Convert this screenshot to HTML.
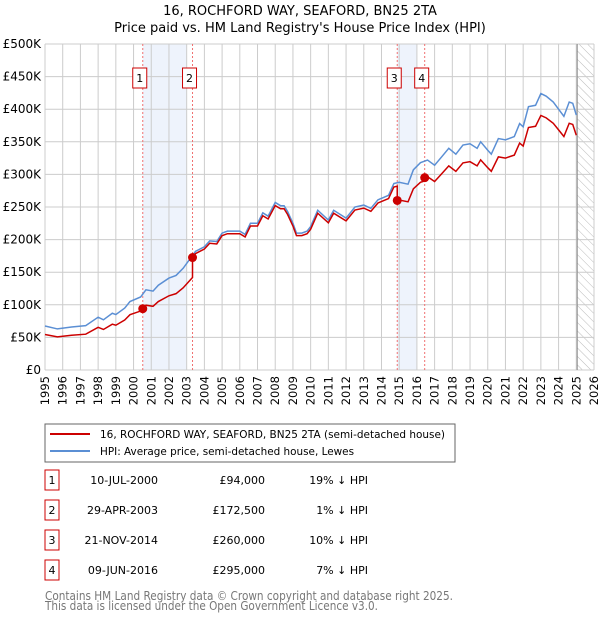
<!DOCTYPE html>
<html><head><meta charset="utf-8"><style>
body{margin:0;background:#fff;font-family:"DejaVu Sans","Liberation Sans",sans-serif;}
svg text{font-family:"DejaVu Sans","Liberation Sans",sans-serif;}
</style></head><body>
<svg id="c" width="600" height="620" viewBox="0 0 600 620" xmlns="http://www.w3.org/2000/svg">
<defs><pattern id="hatch" width="6" height="6" patternUnits="userSpaceOnUse" patternTransform="rotate(-45)"><line x1="0" y1="0" x2="0" y2="6" stroke="#bbb" stroke-width="1"/></pattern></defs>
<text x="300" y="15" text-anchor="middle" font-size="13" fill="#000">16, ROCHFORD WAY, SEAFORD, BN25 2TA</text>
<text x="300" y="32" text-anchor="middle" font-size="13" fill="#000">Price paid vs. HM Land Registry's House Price Index (HPI)</text>
<g id="plot"></g>
<rect x="45" y="424" width="410" height="38" fill="#fff" stroke="#666"/>
<line x1="50" y1="434" x2="90" y2="434" stroke="#cc0000" stroke-width="2"/>
<text x="100" y="438" font-size="11" textLength="345" lengthAdjust="spacingAndGlyphs">16, ROCHFORD WAY, SEAFORD, BN25 2TA (semi-detached house)</text>
<line x1="50" y1="451" x2="90" y2="451" stroke="#5b8fd4" stroke-width="2"/>
<text x="100" y="455" font-size="11" textLength="254" lengthAdjust="spacingAndGlyphs">HPI: Average price, semi-detached house, Lewes</text>
<g id="table"></g>
<text x="45" y="600" font-size="12" fill="#777" textLength="408" lengthAdjust="spacingAndGlyphs">Contains HM Land Registry data © Crown copyright and database right 2025.</text>
<text x="45" y="610" font-size="12" fill="#777" textLength="333" lengthAdjust="spacingAndGlyphs">This data is licensed under the Open Government Licence v3.0.</text>
</svg>
<script>
const hpiYears=[1995,1995.7,1996.5,1997.3,1998,1998.3,1998.8,1999,1999.5,1999.8,2000.4,2000.7,2001.1,2001.4,2002,2002.4,2002.8,2003.2,2003.5,2004,2004.3,2004.7,2005,2005.3,2006,2006.3,2006.6,2007,2007.3,2007.6,2008,2008.3,2008.5,2008.7,2009,2009.2,2009.5,2009.8,2010,2010.4,2011,2011.3,2012,2012.5,2013,2013.4,2013.8,2014.4,2014.7,2015,2015.5,2015.8,2016.2,2016.6,2017,2017.4,2017.8,2018.2,2018.6,2019,2019.4,2019.6,2020,2020.2,2020.6,2021,2021.5,2021.8,2022,2022.3,2022.7,2023,2023.3,2023.7,2024,2024.3,2024.6,2024.8,2025];
const hpiValues=[67.5,63,66,68,81,77,87,85,95,105,112,123,121,130,141,145,156,171,182,189,198,197,210,213,213,208,225,225,241,236,257,252,252,243,225,210,210,213,220,245,230,245,233,250,253,248,261,268,286,288,285,307,318,322,314,327,340,331,345,347,340,350,337,331,355,353,358,378,373,404,406,424,420,411,400,389,411,409,391];
const saleDates=[2000.52,2003.33,2014.89,2016.44];
const salePrices=[94,172.5,260,295];
const saleLabels=["1","2","3","4"];
const saleDateText=["10-JUL-2000","29-APR-2003","21-NOV-2014","09-JUN-2016"];
const salePriceText=["£94,000","£172,500","£260,000","£295,000"];
const saleDiffText=["19% ↓ HPI","1% ↓ HPI","10% ↓ HPI","7% ↓ HPI"];
const yTicks=[0,50,100,150,200,250,300,350,400,450,500];
const yTickLabels=["£0","£50K","£100K","£150K","£200K","£250K","£300K","£350K","£400K","£450K","£500K"];
const xTicks=[1995,1996,1997,1998,1999,2000,2001,2002,2003,2004,2005,2006,2007,2008,2009,2010,2011,2012,2013,2014,2015,2016,2017,2018,2019,2020,2021,2022,2023,2024,2025,2026];
const dataEnd=2025.05;

const X0=45,X1=594,Y0=370,Y1=44,xMin=1995,xMax=2026,yMax=500;
const xs=v=>X0+(v-xMin)/(xMax-xMin)*(X1-X0);
const ys=v=>Y0-v/yMax*(Y0-Y1);
const NS="http://www.w3.org/2000/svg";
const plot=document.getElementById('plot');
function mk(tag,attrs,parent){const e=document.createElementNS(NS,tag);for(const k in attrs)e.setAttribute(k,attrs[k]);(parent||plot).appendChild(e);return e;}
function hpiAt(t){for(let i=0;i<hpiYears.length-1;i++){if(t<=hpiYears[i+1]){const f=(t-hpiYears[i])/(hpiYears[i+1]-hpiYears[i]);return hpiValues[i]+f*(hpiValues[i+1]-hpiValues[i]);}}return hpiValues[hpiValues.length-1];}

for(let i=0;i<saleDates.length;i+=2){
  const a=saleDates[i],b=Math.floor(saleDates[i+1]);
  const r=mk('rect',{x:xs(a),y:Y1,width:xs(b)-xs(a),height:Y0-Y1,fill:'#eef3fc'});
  
  
}
const hz=mk('rect',{x:xs(dataEnd),y:Y1,width:X1-xs(dataEnd),height:Y0-Y1,fill:'url(#hatch)'});


yTicks.forEach((v,i)=>{
  const l=mk('line',{x1:X0,x2:X1,y1:ys(v),y2:ys(v),stroke:'#ccc','stroke-width':1});
  
  
  const t=mk('text',{x:X0-4,y:ys(v)+4,'text-anchor':'end','font-size':12,fill:'#000'});
  t.textContent=yTickLabels[i];
  
  
});
xTicks.forEach(v=>{
  const l=mk('line',{x1:xs(v),x2:xs(v),y1:Y1,y2:Y0,stroke:'#ccc','stroke-width':1});
  
  
  const tx=xs(v)+4,ty=376;
  const t=mk('text',{x:tx,y:ty,'text-anchor':'end','font-size':11.5,fill:'#000',transform:'rotate(-90 '+tx+' '+ty+')'});
  t.textContent=v;
  
  
});
const el=mk('line',{x1:xs(dataEnd),x2:xs(dataEnd),y1:Y1,y2:Y0,stroke:'#888','stroke-width':1});


saleDates.forEach((d,i)=>{
  const l=mk('line',{x1:xs(d),x2:xs(d),y1:Y1,y2:Y0,stroke:'#f07070','stroke-width':1,'stroke-dasharray':'2,2'});
  
  
  const r=mk('rect',{x:xs(d)-10,y:68,width:14,height:20,fill:'#fff',stroke:'#cc0000'});
  
  
  const t=mk('text',{x:xs(d)-3,y:82,'text-anchor':'middle','font-size':11});
  t.textContent=saleLabels[i];
  
  
});
const hp=mk('polyline',{points:hpiYears.map((y,i)=>xs(y)+','+ys(hpiValues[i])).join(' '),fill:'none',stroke:'#5b8fd4','stroke-width':1.5});


const pts=[];
function ratioAt(t){let idx=0;for(let i=0;i<saleDates.length;i++)if(t>=saleDates[i])idx=i;return salePrices[idx]/hpiAt(saleDates[idx]);}
const times=hpiYears.concat(saleDates).concat(saleDates.map(d=>d-0.001)).sort((a,b)=>a-b);
times.forEach(t=>{pts.push(xs(t)+','+ys(hpiAt(t)*ratioAt(t)));});
const pl=mk('polyline',{points:pts.join(' '),fill:'none',stroke:'#cc0000','stroke-width':1.5});


saleDates.forEach((d,i)=>{
  const c=mk('circle',{cx:xs(d),cy:ys(salePrices[i]),r:4.5,fill:'#cc0000'});
  
  
});
const tb=document.getElementById('table');
saleDates.forEach((d,i)=>{
  const y=483+i*30;
  const r=mk('rect',{x:45,y:y-13,width:14,height:20,fill:'#fff',stroke:'#cc0000'},tb);
  
  
  const cells=[[52,'middle',saleLabels[i],'table-marker-label'],[158,'end',saleDateText[i],'table-date'],[265,'end',salePriceText[i],'table-price'],[368,'end',saleDiffText[i],'table-hpi-diff']];
  cells.forEach(c=>{
    const t=mk('text',{x:c[0],y:y+1,'text-anchor':c[1],'font-size':11},tb);
    t.textContent=c[2];
    
    
  });
});
</script>
</body></html>
